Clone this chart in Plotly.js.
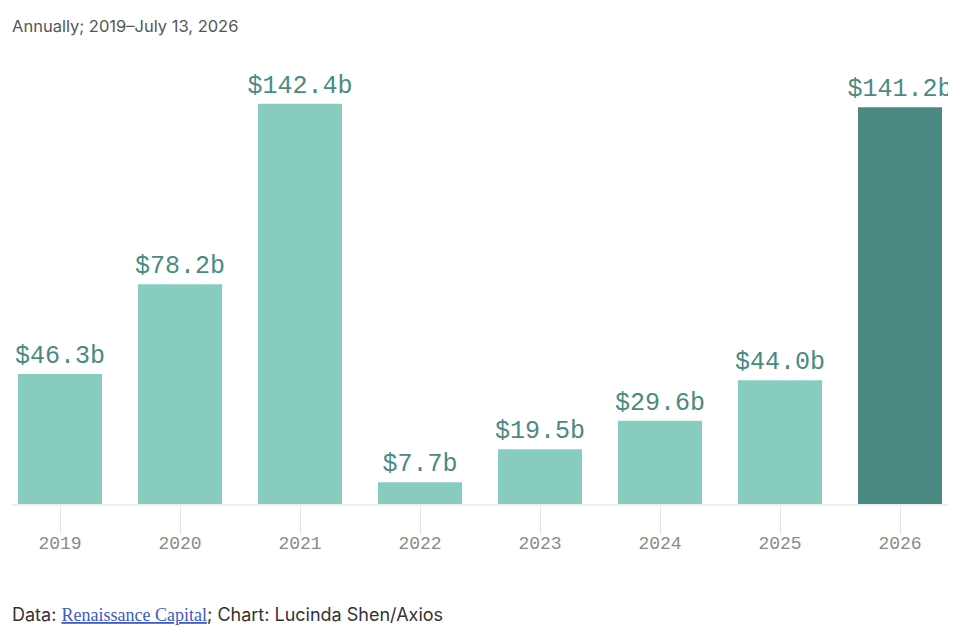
<!DOCTYPE html>
<html>
<head>
<meta charset="utf-8">
<script src="https://cdn.plot.ly/plotly-3.0.1.min.js"></script>
<style>html,body{margin:0;padding:0;background:#fff;}#chart{width:962px;height:636px;}</style>
</head>
<body>
<div id="chart"></div>
<script>
const years = ['2019','2020','2021','2022','2023','2024','2025','2026'];
const values = [46.3, 78.2, 142.4, 7.7, 19.5, 29.6, 44.0, 141.2];
const valueLabels = ['$46.3b','$78.2b','$142.4b','$7.7b','$19.5b','$29.6b','$44.0b','$141.2b'];
const barColors = ['#88ccc0','#88ccc0','#88ccc0','#88ccc0','#88ccc0','#88ccc0','#88ccc0','#4a8982'];

const trace = {
  type: 'bar',
  x: years,
  y: values,
  text: valueLabels,
  textposition: 'outside',
  constraintext: 'none',
  cliponaxis: true,
  outsidetextfont: {family: 'Liberation Mono, monospace', size: 25, color: '#4a8a84'},
  marker: {color: barColors, line: {width: 0}},
  hoverinfo: 'none'
};

const layout = {
  width: 962,
  height: 636,
  margin: {l: 12, r: 14, t: 60, b: 132},
  paper_bgcolor: '#ffffff',
  plot_bgcolor: '#ffffff',
  bargap: 0.3,
  showlegend: false,
  xaxis: {
    type: 'category',
    range: [-0.4, 7.4],
    showgrid: false,
    showline: true,
    linecolor: '#eeeeee',
    linewidth: 2,
    ticks: 'outside',
    ticklen: 28,
    tickwidth: 1,
    tickcolor: '#e3e3e3',
    ticklabelstandoff: -7,
    tickfont: {family: 'Liberation Mono, monospace', size: 18, color: '#8c8a86'},
    zeroline: false,
    fixedrange: true
  },
  yaxis: {
    range: [0, 158],
    visible: false,
    showgrid: false,
    zeroline: false,
    fixedrange: true
  },
  annotations: [
    {
      xref: 'paper', yref: 'paper',
      x: 0, y: 1, xanchor: 'left', yanchor: 'middle',
      xshift: -2, yshift: 34,
      text: 'Annually; 2019–July 13, 2026',
      showarrow: false,
      font: {family: 'Inter, Roboto, sans-serif', size: 16.5, color: '#555555'}
    },
    {
      xref: 'paper', yref: 'paper',
      x: 0, y: 0, xanchor: 'left', yanchor: 'middle',
      xshift: -2, yshift: -110,
      text: 'Data: <span style="font-family:Liberation Serif, serif;color:#3b5bc9;text-decoration:underline">Renaissance Capital</span>; Chart: Lucinda Shen/Axios',
      showarrow: false,
      font: {family: 'Inter, Roboto, sans-serif', size: 18, color: '#333333'}
    }
  ]
};

Plotly.newPlot('chart', [trace], layout, {displayModeBar: false, staticPlot: true});
</script>
</body>
</html>
